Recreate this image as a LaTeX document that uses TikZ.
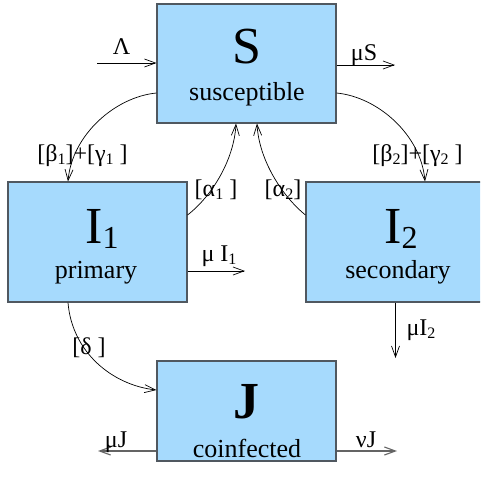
\documentclass[tikz,border=0pt]{standalone}
\usepackage{fontspec}
\setmainfont{Liberation Serif}
\usetikzlibrary{arrows.meta,calc}
\definecolor{boxfill}{RGB}{166,218,253}
\definecolor{boxline}{RGB}{80,88,96}
\definecolor{arrgray}{RGB}{100,100,100}
\newcommand{\lidx}[1]{\raisebox{-0.35ex}{\fontsize{16}{16}\selectfont #1}}
\newcommand{\bidx}[1]{\raisebox{-0.25ex}{\fontsize{32}{32}\selectfont #1}}
\begin{document}
\begin{tikzpicture}[x=1pt,y=-1pt,
  box/.style={draw=boxline, fill=boxfill, line width=1.1pt, minimum width=179pt, inner sep=0pt},
  arr/.style={-{Straight Barb[length=11pt,width=8pt]}, line width=0.7pt},
  arrg/.style={arr, draw=arrgray, line width=1.1pt},
  big/.style={font=\fontsize{52}{52}\selectfont, anchor=base, inner sep=0pt},
  cname/.style={font=\fontsize{26}{26}\selectfont, anchor=base, inner sep=0pt},
  lab/.style={font=\fontsize{24}{24}\selectfont, anchor=base, inner sep=0pt},
]
\useasboundingbox (0,0) rectangle (480,485);
\clip (0,0) rectangle (480,485);

% boxes
\node[box, minimum height=119pt] (S) at (246.5,63.5) {};
\node[box, minimum height=120pt] (I1) at (97.5,242) {};
\node[box, minimum height=120pt] (I2) at (395.5,242) {};
\node[box, minimum height=100pt] (J) at (246.5,411) {};

% box texts
\node[big] (tS) at (247,63) {S};
\node[cname] (nS) at (247,100) {susceptible};
\node[big] (tI1) at (102,243) {I\bidx{1}};
\node[cname] (nI1) at (96,278) {primary};
\node[big] (tI2) at (401,243) {I\bidx{2}};
\node[cname] (nI2) at (398,278) {secondary};
\node[big] (tJ) at (246,418) {\bfseries J};
\node[cname] (nJ) at (247,457) {coinfected};

% free ends
\coordinate (lamIn) at (97,63);
\coordinate (muSout) at (395,65);
\coordinate (muI1out) at (245,271);
\coordinate (muI2out) at (395.5,358);
\coordinate (muJout) at (98,451);
\coordinate (nuJout) at (397,451);

% connectors
\draw[arr] (lamIn) -- (S.west |- lamIn);
\draw[arr] (S.east |- muSout) -- (muSout);
\draw[arr] ([yshift=-29.5pt]S.west) .. controls (115,97) and (72,135) .. ([xshift=-29.5pt]I1.north);
\draw[arr] ([yshift=-29.5pt]S.east) .. controls (378,97) and (421,135) .. ([xshift=29.5pt]I2.north);
\draw[arr] ([yshift=27pt]I1.east) .. controls (212,196) and (234,160) .. ([xshift=-10.5pt]S.south);
\draw[arr] ([yshift=27pt]I2.west) .. controls (282,196) and (259,160) .. ([xshift=10.5pt]S.south);
\draw[arr] (I1.east |- muI1out) -- (muI1out);
\draw[arr] (I2.south) -- (muI2out);
\draw[arr] ([xshift=-29.5pt]I1.south) .. controls (72,352) and (112,385) .. ([yshift=21pt]J.west);
\draw[arrg] (J.west |- muJout) -- (muJout);
\draw[arrg] (J.east |- nuJout) -- (nuJout);

% labels
\node[lab] (lLam) at (121.5,54) {Λ};
\node[lab] (lmuS) at (364,60) {μS};
\node[lab] (lb1) at (82.5,161) {[β\lidx{1}]+[γ\lidx{1} ]};
\node[lab] (lb2) at (417.5,161) {[β\lidx{2}]+[γ\lidx{2} ]};
\node[lab] (la1) at (216,196) {[α\lidx{1} ]};
\node[lab] (la2) at (283,196) {[α\lidx{2}]};
\node[lab] (lmuI1) at (219,261) {μ I\lidx{1}};
\node[lab] (lmuI2) at (421,335) {μI\lidx{2}};
\node[lab] (ld) at (89,354) {[δ ]};
\node[lab] (lmuJ) at (116,447) {μJ};
\node[lab] (lnuJ) at (366,447) {νJ};
\end{tikzpicture}
\end{document}
